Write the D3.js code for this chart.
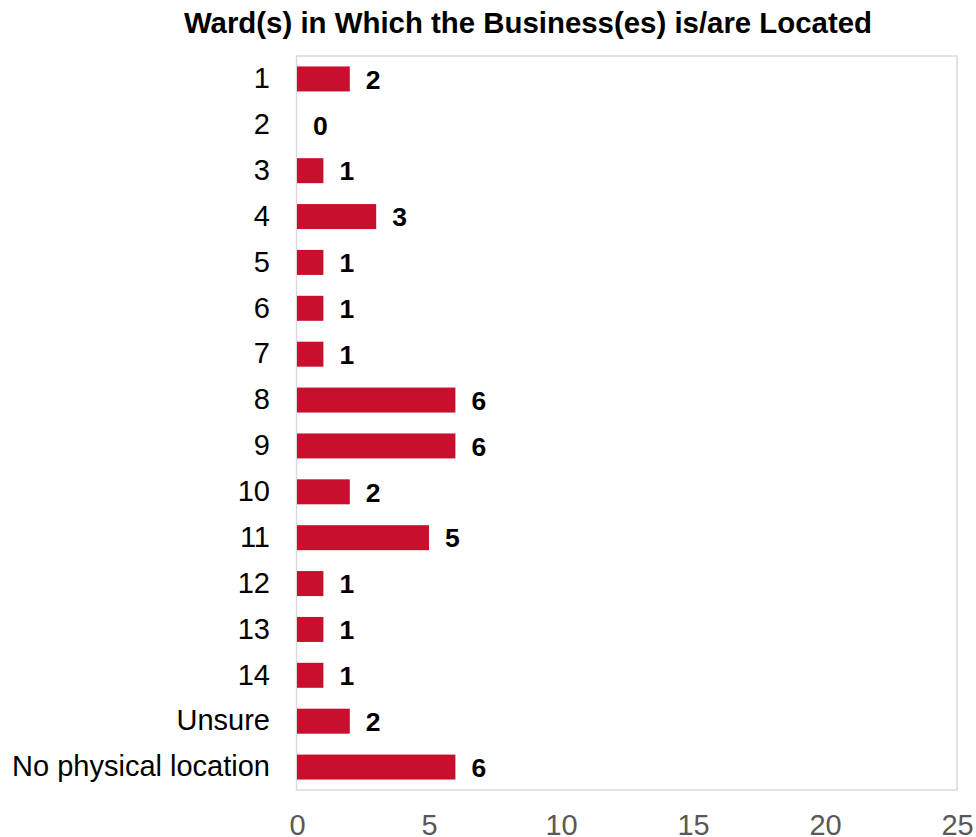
<!DOCTYPE html>
<html>
<head>
<meta charset="utf-8">
<script src="https://cdn.jsdelivr.net/npm/d3@7"></script>
<style>
  body { margin: 0; background: #fff; }
  text { font-family: "Liberation Sans", Arial, sans-serif; }
</style>
</head>
<body>
<script>
    var width = 976, height = 837;

    // data
    var wards = ["1","2","3","4","5","6","7","8","9","10","11","12","13","14","Unsure","No physical location"];
    var counts = [2,0,1,3,1,1,1,6,6,2,5,1,1,1,2,6];
    var xTicks = [0,5,10,15,20,25];

    var plotLeft = 297, plotRight = 957, plotTop = 56, plotBottom = 790;

    var svg = d3.select("body")
    .append("svg").attr("width", width).attr("height", height)

    var x = d3.scaleLinear().domain([0, 25]).range([plotLeft, plotRight]);
    var y = d3.scaleBand().domain(wards).range([plotTop, plotBottom]).paddingInner(0.455).paddingOuter(0.2275);

    // plot frame
    svg.append("rect")
    .attr("x", plotLeft - 0.5).attr("y", plotTop)
    .attr("width", plotRight - plotLeft + 0.5).attr("height", plotBottom - plotTop)
    .style("fill", "none").style("stroke", "#d9d9d9").style("stroke-width", 1.5)

    // title
    svg.append("text")
    .attr("x", 528).attr("y", 33)
    .attr("text-anchor", "middle")
    .style("font-size", "29.4px").style("font-weight", "bold")
    .text("Ward(s) in Which the Business(es) is/are Located");

    // bars
    svg.selectAll(".bar").data(counts).enter().append("rect")
    .attr("class", "bar")
    .attr("x", x(0))
    .attr("y", function(d, i){ return y(wards[i]); })
    .attr("width", function(d){ return x(d) - x(0); })
    .attr("height", y.bandwidth())
    .style("fill", "#c8102e")

    // value labels
    svg.selectAll(".val").data(counts).enter().append("text")
    .attr("class", "val")
    .attr("x", function(d){ return x(d) + 16; })
    .attr("y", function(d, i){ return y(wards[i]) + y.bandwidth()/2; })
    .attr("dy", "0.37em")
    .style("font-size", "26.5px").style("font-weight", "bold")
    .text(function(d){ return d; });

    // category axis
    var yAxis = svg.append("g").attr("transform", "translate(" + plotLeft + ",0)")
    .call(d3.axisLeft(y).tickSize(0).tickPadding(27));
    yAxis.select(".domain").remove();
    yAxis.selectAll("text")
    .style("font-family", "Liberation Sans, Arial, sans-serif")
    .style("font-size", "29px").style("fill", "#000");

    // value axis
    var xAxis = svg.append("g").attr("transform", "translate(0," + plotBottom + ")")
    .call(d3.axisBottom(x).tickValues(xTicks).tickSize(0).tickPadding(24));
    xAxis.select(".domain").remove();
    xAxis.selectAll("text")
    .style("font-family", "Liberation Sans, Arial, sans-serif")
    .style("font-size", "29px").style("fill", "#595959");
</script>
</body>
</html>
